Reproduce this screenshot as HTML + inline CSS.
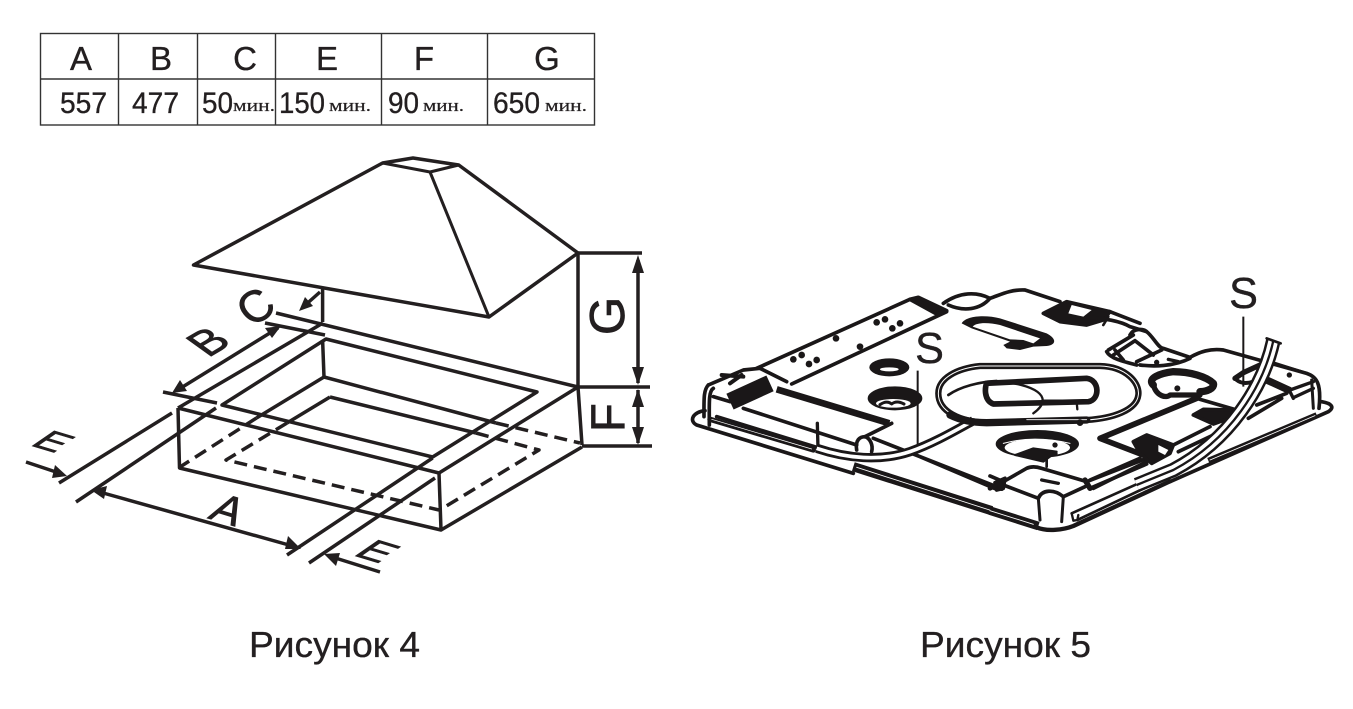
<!DOCTYPE html>
<html><head><meta charset="utf-8"><style>
html,body{margin:0;padding:0;background:#fff;width:1353px;height:709px;overflow:hidden}
svg{display:block}
text{font-family:"Liberation Sans",sans-serif;fill:#231f20;stroke:#231f20;stroke-width:.35}
text.m{font-family:"Liberation Serif",serif;stroke-width:.2}
text.b{stroke-width:.8}
</style></head><body>
<svg width="1353" height="709" viewBox="0 0 1353 709" xmlns="http://www.w3.org/2000/svg">
<!-- table -->
<g stroke="#333" stroke-width="1.4" fill="none">
<rect x="40.500" y="33.500" width="554" height="91.500"/>
<path d="M40 79H594M118.500 33V125M197.500 33V125M275.500 33V125M381.500 33V125M487.500 33V125"/>
</g>
<g font-size="33" text-anchor="middle">
<text x="81" y="70">A</text><text x="161" y="70">B</text><text x="245" y="70">C</text><text x="327" y="70">E</text><text x="424" y="70">F</text><text x="547" y="70">G</text>
</g>
<g font-size="30">
<text x="60" y="113" textLength="47" lengthAdjust="spacingAndGlyphs">557</text>
<text x="132" y="113" textLength="47" lengthAdjust="spacingAndGlyphs">477</text>
<text x="202" y="113" textLength="31" lengthAdjust="spacingAndGlyphs">50</text>
<text x="279" y="113" textLength="46" lengthAdjust="spacingAndGlyphs">150</text>
<text x="388" y="113" textLength="31" lengthAdjust="spacingAndGlyphs">90</text>
<text x="493" y="113" textLength="47" lengthAdjust="spacingAndGlyphs">650</text>
</g>
<g font-size="17">
<text class="m" x="233" y="111" textLength="42" lengthAdjust="spacingAndGlyphs">мин.</text>
<text class="m" x="329" y="111" textLength="42" lengthAdjust="spacingAndGlyphs">мин.</text>
<text class="m" x="423" y="111" textLength="41" lengthAdjust="spacingAndGlyphs">мин.</text>
<text class="m" x="545" y="111" textLength="42" lengthAdjust="spacingAndGlyphs">мин.</text>
</g>

<!-- Figure 4 -->
<g fill="none" stroke="#231f20" stroke-width="3.500" stroke-linejoin="round" stroke-linecap="butt">
<path d="M193.500 265L382.600 163L413 158L458.700 165L578 253L489 317Z"/>
<path d="M382.600 163L430 172L458.700 165M430 172L489 317" stroke-width="3"/>
<path d="M322.600 289V322M322.600 340L324 377"/>
<path d="M276 313L578 387M265 323L325 335"/>
<path d="M326 339L537 392L432.600 457L222 405Z"/>
<path d="M324 377L496 423"/>
<path d="M496 423L580 443" stroke-dasharray="13 7"/>
<path d="M324 377L256.500 418"/>
<path d="M256.500 418L180 467" stroke-dasharray="13 7"/>
<path d="M330 397L476 433M330 397L287 423"/>
<path d="M476 433L539 450L443 508" stroke-dasharray="13 7"/>
<path d="M287 423L226 460L439 510" stroke-dasharray="13 7"/>
<path d="M178 408L323 323M178 408L439 473L578 387"/>
<path d="M178 408L179.500 468L441 530L439 473M441 530L582 447"/>
<path d="M578 253V387L582 445"/>
<path d="M76 502L216 408M59 483L172 413M287 555L432.600 458M309 563L435 478"/>
<path d="M163 392L217 403"/>
<path d="M578 253H642M578 387H650M582 446H652"/>
<path d="M320 292L302 308"/>
<path d="M278 328L176 391"/>
<path d="M96 491L296 547"/>
<path d="M26 462L62 474"/>
<path d="M380 572L329 556"/>
<path d="M638 260V383M638 390V443"/>
</g>
<g fill="#231f20">
<path d="M299 311L305 297L313 306Z"/>
<path d="M281 326L265 328L272 338Z"/>
<path d="M172 393L187 391L180 380Z"/>
<path d="M91 490L107 486L104 499Z"/>
<path d="M301 549L285 549L288 536Z"/>
<path d="M67 476L52 478L55 465Z"/>
<path d="M324 554L340 553L336 566Z"/>
<path d="M638 255L632 273H644Z"/>
<path d="M638 385L632 367H644Z"/>
<path d="M638 389L632 407H644Z"/>
<path d="M638 445L632 427H644Z"/>
</g>
<g font-size="44">
<text class="b" transform="matrix(.8,-.55,.62,.78,252,328)" font-size="46">C</text>
<text class="b" transform="matrix(.85,-.5,.81,.58,208,358)" font-size="45">B</text>
<text class="b" transform="matrix(1,.3,-.5,.87,207,518)" font-size="42">A</text>
<text class="b" transform="translate(624 335) rotate(-90)" font-size="49">G</text>
<text class="b" transform="translate(624 432) rotate(-90)" font-size="47">F</text>
<text class="b" transform="matrix(1,.3,-.8,.55,29,445)" font-size="40">E</text>
<text class="b" transform="matrix(1,.3,-.8,.55,352,555)" font-size="42">E</text>
</g>
<text x="249" y="657" font-size="36" textLength="171" lengthAdjust="spacingAndGlyphs">Рисунок 4</text>
<text x="920" y="657" font-size="36" textLength="171" lengthAdjust="spacingAndGlyphs">Рисунок 5</text>

<!-- Figure 5: left part -->
<g transform="translate(680 260) scale(.33333)" fill="none" stroke="#1a1718" stroke-width="11" stroke-linejoin="round" stroke-linecap="round">
<path d="M75 452C40 455 25 482 50 495L520 640" stroke-width="11"/>
<path d="M520 620L935 752" stroke-width="28" stroke-linecap="butt"/>
<path d="M530 622L935 752" stroke="#fff" stroke-width="2.500"/>
<path d="M85 375C70 390 72 420 72 470M100 385C85 395 88 430 88 495"/>
<path d="M90 478L400 570" stroke-width="16"/>
<path d="M95 478L395 567" stroke="#fff" stroke-width="2"/>
<path d="M85 375L190 330L240 325L320 365"/>
<path d="M230 325L690 118L800 155L335 372"/>
<path d="M690 118L715 112L800 152L770 162Z" fill="#1a1718"/>
<g fill="#1a1718" stroke="none">
<circle cx="590" cy="187" r="10"/><circle cx="615" cy="178" r="10"/><circle cx="637" cy="205" r="10"/><circle cx="660" cy="190" r="10"/><circle cx="468" cy="235" r="10"/><circle cx="540" cy="260" r="10"/><circle cx="340" cy="298" r="10"/><circle cx="365" cy="285" r="10"/><circle cx="387" cy="312" r="10"/><circle cx="410" cy="300" r="10"/>
<ellipse cx="628" cy="322" rx="60" ry="27"/>
<ellipse cx="645" cy="415" rx="82" ry="36"/>
</g>
<ellipse cx="628" cy="328" rx="28" ry="6" fill="#fff" stroke="none"/>
<ellipse cx="640" cy="430" rx="52" ry="13" fill="#fff" stroke="none"/>
<path d="M600 434Q620 420 635 432Q650 420 672 432" stroke-width="9"/>
<path d="M150 425L270 370" stroke-width="52" stroke-linecap="butt"/>
<path d="M290 388L628 490" stroke-width="20" stroke-linecap="butt"/>
<path d="M635 490L555 530"/>
<path d="M190 445L530 555M100 410L150 425M110 470L420 565"/>
<path d="M125 345L190 350M150 370L185 345" stroke-width="12"/>
<path d="M412 490L414 565" stroke-width="10"/>
<path d="M530 570C525 540 540 530 555 530C570 535 580 555 575 575"/>
<path d="M580 535L950 680M720 590L950 688"/>
<path d="M945 668L975 655L970 685L950 690Z" fill="#1a1718"/>
<path d="M410 565C500 595 600 605 690 575C760 550 820 515 880 482" stroke-width="28" stroke-linecap="butt"/>
<path d="M410 565C500 595 600 605 690 575C760 550 820 515 880 482" stroke="#fff" stroke-width="11" stroke-linecap="butt"/>
<path d="M713 332V555" stroke-width="6" stroke-linecap="butt"/>
</g>

<!-- Figure 5: centre -->
<g transform="translate(900 280) scale(.33333)" fill="none" stroke="#1a1718" stroke-width="11" stroke-linejoin="round" stroke-linecap="round">
<path d="M130 70C180 35 230 35 270 55C240 90 190 95 145 75M270 55C300 45 330 28 375 30L480 65"/>
<path d="M430 100L500 65L630 95L610 120L560 135L480 125Z" fill="#1a1718"/>
<path d="M515 75L575 90L550 110L505 100Z" fill="#fff" stroke="none"/>
<path d="M610 115L625 110L610 135" stroke-width="8"/>
<path d="M630 95L720 130"/>
<path d="M185 130C200 105 260 105 300 115L440 160C470 175 470 195 440 198L400 200L360 210L320 205L310 195L330 185L215 145Z" fill="#1a1718" stroke="none"/>
<path d="M218 140C230 125 270 128 300 135L420 175L400 190L370 180L330 178Z" fill="#fff" stroke="none"/>
<path d="M240 258H600C680 260 720 310 715 345C710 390 640 415 560 420L260 428C180 425 115 395 115 340C115 295 170 265 240 258Z" stroke-width="19"/>
<path d="M240 258H600C680 260 720 310 715 345C710 390 640 415 560 420L260 428C180 425 115 395 115 340C115 295 170 265 240 258Z" stroke="#fff" stroke-width="3"/>
<path d="M150 405C190 425 230 428 260 428L560 420" stroke-width="22"/>
<path d="M380 419H560" stroke="#fff" stroke-width="2.500"/>
<path d="M145 345C180 320 240 305 290 303" stroke-width="8"/>
<path d="M260 310L560 295C600 300 600 360 565 365L280 372C250 360 255 320 260 310Z" stroke-width="17"/>
<path d="M275 325L555 310C580 315 580 345 555 350" stroke="#fff" stroke-width="3"/>
<path d="M290 305C400 310 470 350 400 400M430 362H565M530 365L532 388" stroke-width="7"/>
<circle cx="540" cy="428" r="10" fill="#1a1718" stroke="none"/>
<ellipse cx="412" cy="492" rx="125" ry="42" fill="#1a1718" stroke="none"/>
<ellipse cx="412" cy="503" rx="98" ry="26" fill="#fff" stroke="none"/>
<path d="M310 490Q400 465 510 490" stroke="#fff" stroke-width="3"/>
<path d="M345 525L400 505L470 515L430 545Z" fill="#1a1718" stroke-width="6"/>
<circle cx="465" cy="495" r="8" fill="#1a1718" stroke="none"/><circle cx="465" cy="520" r="8" fill="#1a1718" stroke="none"/>
<path d="M440 540V560" stroke-width="8"/>
</g>

<!-- Figure 5: front corner -->
<g transform="translate(990 440) scale(.33333)" fill="none" stroke="#1a1718" stroke-width="11" stroke-linejoin="round" stroke-linecap="round">
<path d="M0 108L40 125L110 85C125 78 140 80 155 85L290 125L470 55"/>
<path d="M40 135L145 175C155 150 190 145 220 170L285 140M300 145L470 72"/>
<path d="M0 145L30 130" stroke-width="14"/>
<path d="M25 125L35 145M285 120L300 145" stroke-width="16"/>
<path d="M145 175L150 240M220 170L215 245" stroke-width="9"/>
<path d="M155 120L205 130" stroke-width="10"/>
<path d="M0 212L145 258" stroke-width="26" stroke-linecap="butt"/>
<path d="M0 212L130 253" stroke="#fff" stroke-width="2.500"/>
<path d="M140 262C170 275 220 270 250 258L540 124" stroke-width="13"/>
<path d="M245 220L540 88M262 240L540 108" stroke-width="8"/>
<path d="M245 220L250 242L262 240L265 225" stroke-width="7"/>
</g>

<!-- Figure 5: right part -->
<g transform="translate(1090 320) scale(.33333)" fill="none" stroke="#1a1718" stroke-width="11" stroke-linejoin="round" stroke-linecap="round">
<path d="M240 485L715 275C735 262 725 250 695 245" stroke-width="11"/>
<path d="M355 422L680 285" stroke-width="17" stroke-linecap="butt"/>
<path d="M360 420L675 287" stroke="#fff" stroke-width="2.500"/>
<path d="M-10 -10C30 -5 85 0 120 20L170 35C190 50 205 85 220 85L300 112C330 95 360 85 400 90L650 160C680 170 695 190 687 265"/>
<path d="M665 180L670 265" stroke-width="9"/>
<path d="M55 90L130 45M70 105L135 62M135 62L190 105M120 45C130 25 160 25 170 35M50 95C60 115 100 125 140 135M140 125L215 90M150 135C190 140 250 140 300 115M75 90L100 120"/>
<circle cx="200" cy="127" r="8" fill="#1a1718" stroke="none"/>
<path d="M235 118L265 125" stroke-width="10"/>
<path d="M190 195C170 175 210 160 250 155C300 155 350 170 370 190C375 205 350 215 330 215" stroke-width="22"/>
<path d="M190 195C200 230 230 235 240 225L330 225" stroke-width="16"/>
<circle cx="262" cy="205" r="9" fill="#1a1718" stroke="none"/>
<path d="M320 235L30 355L160 405" stroke-width="17"/>
<path d="M130 365L170 345L250 375L240 400L185 430L150 400Z" fill="#1a1718"/>
<path d="M205 375L235 390L225 405L205 395Z" fill="#fff" stroke="none"/>
<path d="M0 480L150 415M10 505L170 425M250 375L360 320M265 395L385 338"/>
<path d="M310 285L340 268L420 270L445 285L370 312Z" fill="#1a1718"/>
<path d="M320 235L440 270"/>
<path d="M435 175L460 158L510 135" stroke-width="16"/>
<path d="M440 180C455 192 475 190 490 185" stroke-width="12"/>
<path d="M555 130L650 160" stroke-width="9"/>
<path d="M530 180L600 212" stroke-width="22" stroke-linecap="butt"/>
<path d="M600 210L670 185M612 232L670 205M595 205L610 235" stroke-width="10"/>
<path d="M475 295L575 235M500 255L590 220"/>
<circle cx="598" cy="165" r="8" fill="#1a1718" stroke="none"/>
<path d="M550 62C520 200 420 360 250 450L140 495" stroke-width="44" stroke-linecap="butt"/>
<path d="M550 62C520 200 420 360 250 450L140 495" stroke="#fff" stroke-width="29" stroke-linecap="butt"/>
<path d="M550 62C520 200 420 360 250 450L140 495" stroke-width="7" stroke-linecap="butt"/>
<path d="M530 55L572 70" stroke-width="8"/>
<path d="M460 -10V200" stroke-width="6" stroke-linecap="butt"/>
</g>
<text x="915" y="363" font-size="44" textLength="29" lengthAdjust="spacingAndGlyphs">S</text>
<text x="1229" y="308" font-size="44" textLength="29" lengthAdjust="spacingAndGlyphs">S</text>
</svg>
</body></html>
